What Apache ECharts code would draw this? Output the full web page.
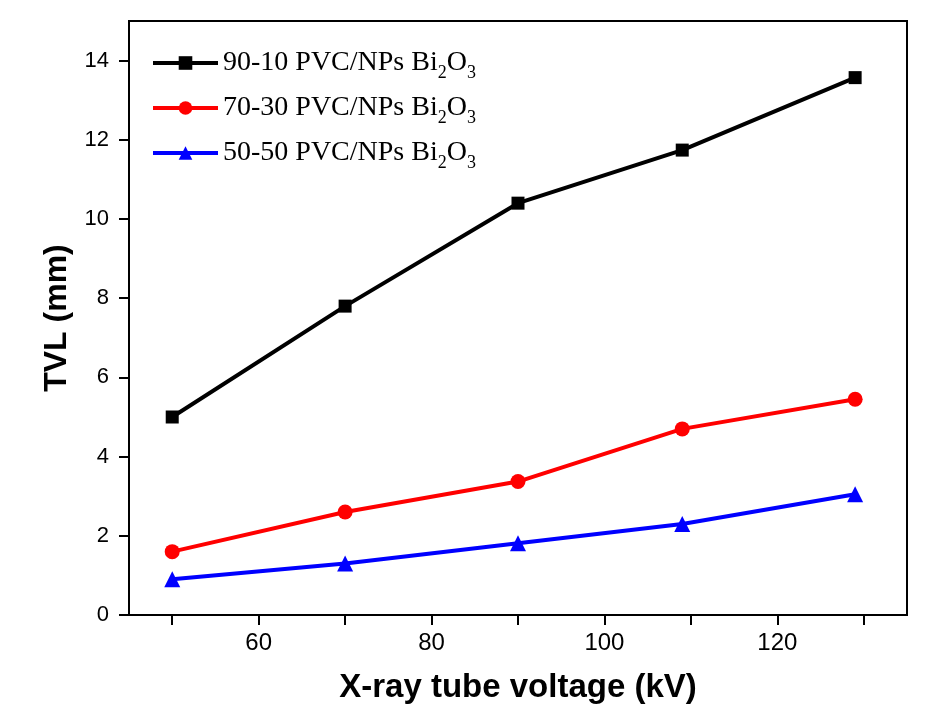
<!DOCTYPE html>
<html><head><meta charset="utf-8">
<script src="https://cdn.jsdelivr.net/npm/echarts@6/dist/echarts.min.js"></script>
<style>html,body{margin:0;padding:0;background:#fff}#c{width:938px;height:708px}</style>
</head><body><div id="c"></div>
<script>
const voltages = [50, 70, 90, 109, 129];
const tvl9010 = [5.0, 7.8, 10.4, 11.74, 13.57];
const tvl7030 = [1.6, 2.6, 3.37, 4.7, 5.45];
const tvl5050 = [0.9, 1.3, 1.81, 2.3, 3.05];
const xTickValues = [50, 60, 70, 80, 90, 100, 110, 120, 130];
const xLabelValues = [60, 80, 100, 120];
const seriesNames = ['90-10 PVC/NPs Bi2O3', '70-30 PVC/NPs Bi2O3', '50-50 PVC/NPs Bi2O3'];
const legendPrefixes = ['90-10 PVC/NPs Bi', '70-30 PVC/NPs Bi', '50-50 PVC/NPs Bi'];

const chart = echarts.init(document.getElementById('c'));
function pts(ys){ return voltages.map((x,i)=>[x, ys[i]]); }
const axisLine = {show:true, onZero:false, lineStyle:{color:'#000', width:2}};
chart.setOption({
  animation:false,
  backgroundColor:'#fff',
  grid:{left:129, right:31, top:21, bottom:93, show:true, borderColor:'#000', borderWidth:2,
        containLabel:false, outerBoundsMode:'none'},
  legend:{
    left:146, top:44, orient:'vertical', itemWidth:65, itemHeight:17, itemGap:12,
    data:seriesNames,
    lineStyle:{width:4},
    formatter:function(name){
      const i = seriesNames.indexOf(name);
      return '{a|' + legendPrefixes[i] + '}{s|2}{a|O}{s|3}';
    },
    textStyle:{
      color:'#000', fontFamily:'Liberation Serif', fontSize:28,
      rich:{
        a:{fontFamily:'Liberation Serif', fontSize:28, color:'#000'},
        s:{fontFamily:'Liberation Serif', fontSize:18, color:'#000', padding:[20,0,0,0]}
      }
    }
  },
  xAxis:{
    type:'value', min:45, max:135,
    name:'X-ray tube voltage (kV)', nameLocation:'middle', nameGap:56,
    nameTextStyle:{fontFamily:'Liberation Sans', fontWeight:'bold', fontSize:33, color:'#000'},
    axisLine:axisLine,
    axisTick:{show:true, inside:false, length:10, customValues:xTickValues, lineStyle:{color:'#000', width:2}},
    axisLabel:{color:'#000', fontFamily:'Liberation Sans', fontSize:24, margin:16, customValues:xLabelValues},
    splitLine:{show:false}
  },
  yAxis:{
    type:'value', min:0, max:15, interval:2,
    name:'TVL (mm)', nameLocation:'middle', nameGap:53,
    nameTextStyle:{fontFamily:'Liberation Sans', fontWeight:'bold', fontSize:32, color:'#000'},
    axisLine:axisLine,
    axisTick:{show:true, inside:false, length:10, lineStyle:{color:'#000', width:2}},
    axisLabel:{color:'#000', fontFamily:'Liberation Sans', fontSize:22, margin:20, showMaxLabel:false},
    splitLine:{show:false}
  },
  series:[
    {name:seriesNames[0], type:'line', data:pts(tvl9010), symbol:'rect', symbolSize:13,
     lineStyle:{color:'#000', width:4}, itemStyle:{color:'#000'}},
    {name:seriesNames[1], type:'line', data:pts(tvl7030), symbol:'circle', symbolSize:15,
     lineStyle:{color:'#ff0000', width:4}, itemStyle:{color:'#ff0000'}},
    {name:seriesNames[2], type:'line', data:pts(tvl5050), symbol:'triangle', symbolSize:16,
     lineStyle:{color:'#0000ff', width:4}, itemStyle:{color:'#0000ff'}}
  ]
});
</script></body></html>
